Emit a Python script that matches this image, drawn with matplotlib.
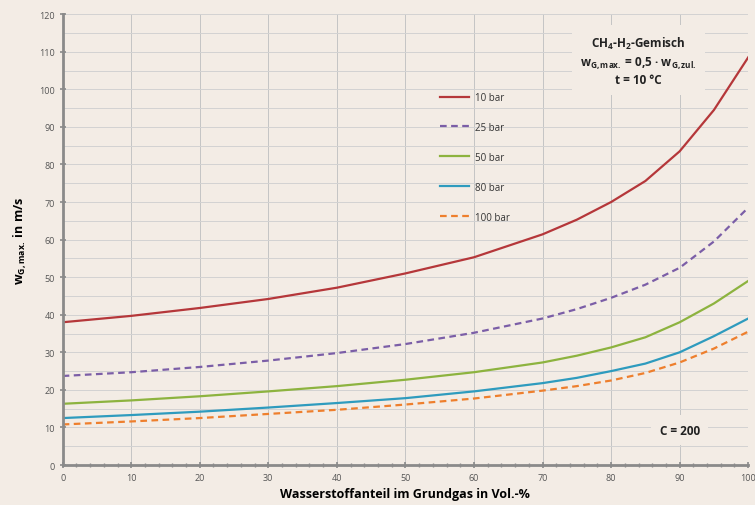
import matplotlib
matplotlib.use("Agg")
import matplotlib.pyplot as plt
from matplotlib.ticker import MultipleLocator

x_h2 = [0, 10, 20, 30, 40, 50, 60, 70, 75, 80, 85, 90, 95, 100]
w_10bar = [38.0, 39.7, 41.8, 44.2, 47.2, 51.0, 55.3, 61.4, 65.3, 70.0, 75.6, 83.5, 94.5, 108.5]
w_25bar = [23.7, 24.7, 26.1, 27.8, 29.8, 32.2, 35.2, 39.0, 41.5, 44.5, 48.0, 52.5, 59.5, 68.5]
w_50bar = [16.3, 17.2, 18.3, 19.6, 21.0, 22.7, 24.7, 27.3, 29.1, 31.3, 34.0, 38.0, 43.0, 49.0]
w_80bar = [12.5, 13.3, 14.2, 15.3, 16.5, 17.8, 19.6, 21.8, 23.2, 25.0, 27.0, 30.0, 34.3, 39.0]
w_100bar = [10.8, 11.6, 12.5, 13.6, 14.7, 16.1, 17.7, 19.8, 21.0, 22.5, 24.5, 27.3, 31.0, 35.5]

series_labels = ["10 bar", "25 bar", "50 bar", "80 bar", "100 bar"]
series_values = [w_10bar, w_25bar, w_50bar, w_80bar, w_100bar]
colors = ["#B5373A", "#7B5EA7", "#8DB33F", "#2E9BBE", "#EE7F2D"]
dashed = [False, True, False, False, True]

bg = "#F3ECE5"
plt.rcParams['font.family'] = ['Open Sans', 'DejaVu Sans']
plt.rcParams['mathtext.fontset'] = 'custom'
plt.rcParams['mathtext.rm'] = 'Open Sans'
plt.rcParams['mathtext.bf'] = 'Open Sans:bold'
plt.rcParams['mathtext.it'] = 'Open Sans:italic'

fig = plt.figure(figsize=(7.55, 5.06), dpi=100, facecolor=bg)
ax = fig.add_axes([0.083, 0.079, 0.908, 0.891], facecolor=bg)

for vals, lab, c, d in zip(series_values, series_labels, colors, dashed):
    kw = {"dashes": (3, 2)} if d else {}
    ax.plot(x_h2, vals, color=c, lw=1.6, label=lab, **kw)

ax.set_xlim(0, 100)
ax.set_ylim(0, 120)
ax.xaxis.set_major_locator(MultipleLocator(10))
ax.xaxis.set_minor_locator(MultipleLocator(2))
ax.yaxis.set_major_locator(MultipleLocator(10))
ax.yaxis.set_minor_locator(MultipleLocator(5))

ax.grid(True, which="major", axis="x", color="#C4C4C4", lw=0.7)
ax.grid(True, which="both", axis="y", color="#D2D2D2", lw=0.7)
ax.set_axisbelow(True)

for s in ["top", "right"]:
    ax.spines[s].set_visible(False)
for s in ["left", "bottom"]:
    ax.spines[s].set_color("#8A8A8A")
    ax.spines[s].set_linewidth(2)

ax.tick_params(axis="both", which="major", colors="#8A8A8A", labelcolor="#555555",
               labelsize=6.5, length=4, width=1.2, direction="inout")
ax.tick_params(axis="x", which="minor", colors="#8A8A8A", length=3, width=1, direction="inout")
ax.tick_params(axis="y", which="minor", length=0)

ax.set_xlabel("Wasserstoffanteil im Grundgas in Vol.-%", fontsize=9, fontweight="bold", labelpad=4)
ax.set_ylabel(r"w$_\mathbf{G,max.}$ in m/s", fontsize=9, fontweight="bold", labelpad=8)

leg = ax.legend(loc="upper left", bbox_to_anchor=(0.538, 0.847), frameon=False,
                fontsize=7, handlelength=3.0, labelspacing=1.95, handletextpad=0.6)
for t in leg.get_texts():
    t.set_color("#333333")

ax.text(0.84, 0.955,
        "CH$_\\mathbf{4}$-H$_\\mathbf{2}$-Gemisch\n"
        "w$_\\mathbf{G,max.}$ = 0,5 · w$_\\mathbf{G,zul.}$\n"
        "t = 10 °C",
        transform=ax.transAxes, ha="center", va="top", fontsize=8.5, fontweight="bold",
        linespacing=1.35, color="#222222",
        bbox=dict(facecolor=bg, edgecolor="none", pad=6))

ax.text(0.9, 0.077, "C = 200", transform=ax.transAxes, ha="center", va="center",
        fontsize=8.5, fontweight="bold", color="#222222",
        bbox=dict(facecolor=bg, edgecolor="none", pad=6))

fig.savefig("out.png", dpi=100, facecolor=bg)
